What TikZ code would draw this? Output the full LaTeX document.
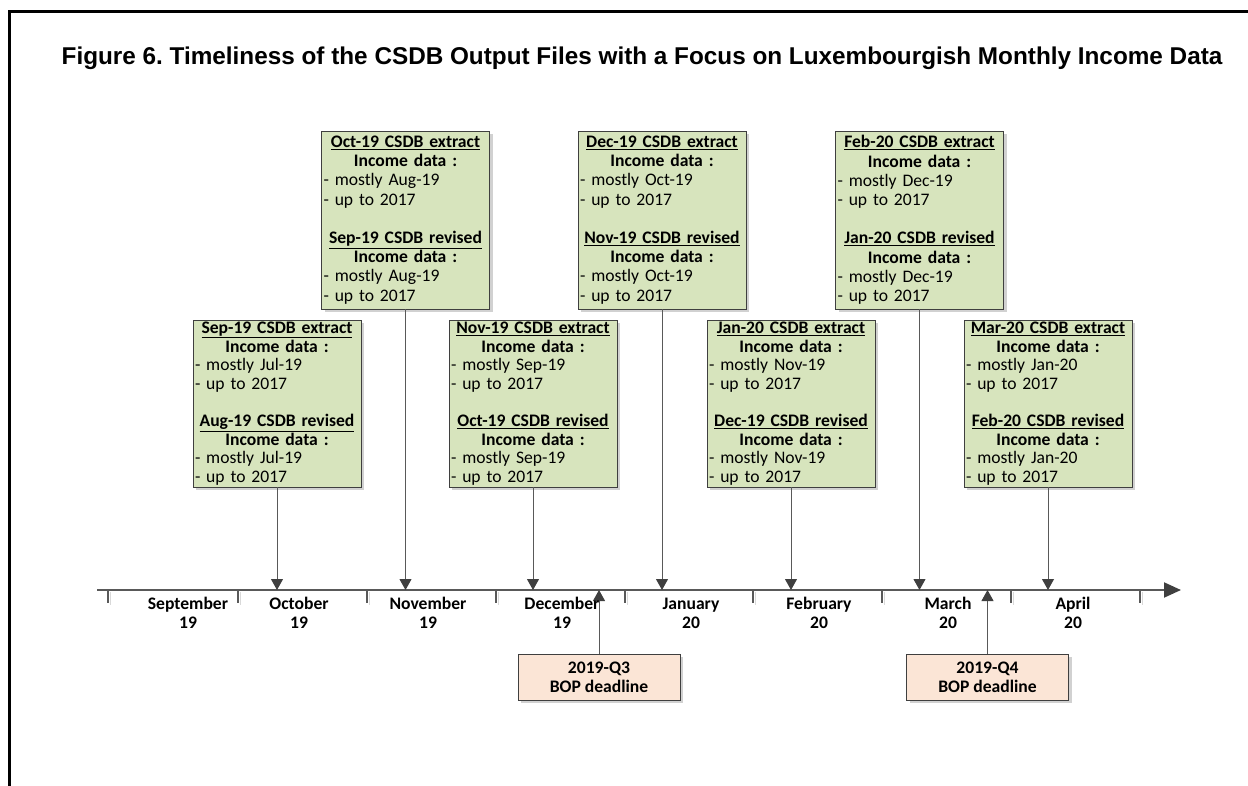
\documentclass[tikz,border=0pt]{standalone}
\usepackage{fontspec}
\setmainfont{Carlito}
\newfontfamily\titlefont{Liberation Sans}
\usetikzlibrary{arrows.meta,shadows}
\definecolor{gfill}{HTML}{D7E4BD}
\definecolor{gborder}{HTML}{3F3F3F}
\definecolor{pfill}{HTML}{FBE5D6}
\definecolor{lgray}{HTML}{595959}
\frenchspacing
\newcommand\incbox[4]{%
\makebox[\linewidth]{\underline{\textbf{#1}}}\\
\makebox[\linewidth]{\textbf{Income data :}}\\
- mostly #2\\
- up to 2017\\[\baselineskip]
\makebox[\linewidth]{\underline{\textbf{#3}}}\\
\makebox[\linewidth]{\textbf{Income data :}}\\
- mostly #4\\
- up to 2017}
\tikzset{
  gbox/.style={draw=gborder, line width=0.8pt, fill=gfill, text width=164pt,
    inner sep=2pt, align=left, minimum height=167pt,
    font=\fontsize{17.6}{18.6}\selectfont,
    drop shadow={shadow xshift=3pt, shadow yshift=-3pt, fill=black!18, opacity=1}},
  gboxhigh/.style={gbox, minimum height=178pt, font=\fontsize{17.6}{19.2}\selectfont},
  pbox/.style={draw=gborder, line width=0.8pt, fill=pfill, minimum width=162pt,
    minimum height=46pt, inner sep=2pt, align=center,
    font=\bfseries\fontsize{17.6}{19}\selectfont,
    drop shadow={shadow xshift=3pt, shadow yshift=-3pt, fill=black!18, opacity=1}},
  month/.style={align=center, font=\bfseries\fontsize{17.6}{19}\selectfont, inner sep=0pt},
  conn/.style={draw=lgray, line width=1pt, -{Triangle[width=12pt,length=11pt,fill=gborder,color=gborder]}},
  tickmark/.style={draw=lgray, line width=1.2pt},
  tickshadow/.style={draw=black!15, line width=1.5pt}
}
\begin{document}
\begin{tikzpicture}[x=1pt,y=-1pt]
\useasboundingbox (0,0) rectangle (1248,786);
% frame
\draw[line width=3pt] (9.5,786) -- (9.5,11.5) -- (1248,11.5);
% title
\node[font=\titlefont\bfseries\fontsize{24.3}{28}\selectfont, inner sep=0pt] (title) at (642,58)
  {Figure 6. Timeliness of the CSDB Output Files with a Focus on Luxembourgish Monthly Income Data};
% timeline
\coordinate (tlstart) at (97,590);
\coordinate (tlend) at (1181,590);
\foreach \x in {108,238,367,496,625,753,882,1011,1140}{
  \draw[tickshadow] (\x+2.5,592) -- (\x+2.5,605);
  \draw[tickmark] (\x,590) -- (\x,603);
}
\draw[draw=lgray, line width=2pt, -{Triangle[length=17pt,width=15pt,fill=gborder,color=gborder]}] (tlstart) -- (tlend);
% boxes
\node[gbox] (a) at (277,403.5) {\incbox{Sep-19 CSDB extract}{Jul-19}{Aug-19 CSDB revised}{Jul-19}};
\node[gboxhigh] (b) at (405.5,220) {\incbox{Oct-19 CSDB extract}{Aug-19}{Sep-19 CSDB revised}{Aug-19}};
\node[gbox] (c) at (533,403.5) {\incbox{Nov-19 CSDB extract}{Sep-19}{Oct-19 CSDB revised}{Sep-19}};
\node[gboxhigh] (d) at (662,220) {\incbox{Dec-19 CSDB extract}{Oct-19}{Nov-19 CSDB revised}{Oct-19}};
\node[gbox] (e) at (791,403.5) {\incbox{Jan-20 CSDB extract}{Nov-19}{Dec-19 CSDB revised}{Nov-19}};
\node[gboxhigh] (f) at (919.5,220) {\incbox{Feb-20 CSDB extract}{Dec-19}{Jan-20 CSDB revised}{Dec-19}};
\node[gbox] (g) at (1048,403.5) {\incbox{Mar-20 CSDB extract}{Jan-20}{Feb-20 CSDB revised}{Jan-20}};
\foreach \n in {a,b,c,d,e,f,g}{
  \draw[conn] (\n.south) -- (\n.south |- tlstart);
}
% deadlines
\node[pbox] (q3) at (599,677) {2019-Q3\\BOP deadline};
\node[pbox] (q4) at (987.5,677) {2019-Q4\\BOP deadline};
\draw[conn] (q3.north) -- (q3.north |- tlstart);
\draw[conn] (q4.north) -- (q4.north |- tlstart);
% month labels
\node[month] (msep) at (188,613) {September\\19};
\node[month] (moct) at (299,613) {October\\19};
\node[month] (mnov) at (428,613) {November\\19};
\node[month] (mdec) at (562,613) {December\\19};
\node[month] (mjan) at (691,613) {January\\20};
\node[month] (mfeb) at (819,613) {February\\20};
\node[month] (mmar) at (948,613) {March\\20};
\node[month] (mapr) at (1073,613) {April\\20};
\end{tikzpicture}
\end{document}
